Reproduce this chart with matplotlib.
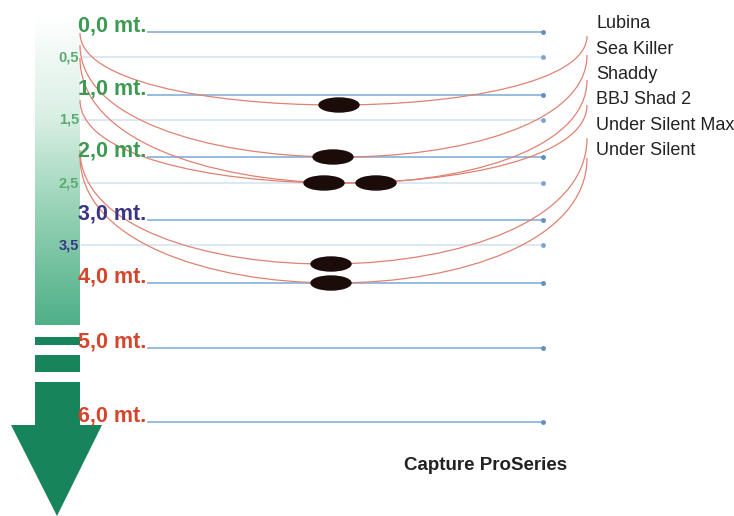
import numpy as np
import matplotlib.pyplot as plt
from matplotlib.colors import LinearSegmentedColormap
from matplotlib.patches import Ellipse, Rectangle, Polygon
from matplotlib.path import Path
from matplotlib.patches import PathPatch

# =============================================================================
# DATA
depth_marks = [0.0, 1.0, 2.0, 3.0, 4.0, 5.0, 6.0]
depth_labels = ["0,0 mt.", "1,0 mt.", "2,0 mt.", "3,0 mt.", "4,0 mt.", "5,0 mt.", "6,0 mt."]
half_marks = [0.5, 1.5, 2.5, 3.5]
half_labels = ["0,5", "1,5", "2,5", "3,5"]

lure_names = ["Lubina", "Sea Killer", "Shaddy", "BBJ Shad 2", "Under Silent Max", "Under Silent"]
lure_depth = [1.2, 2.0, 2.5, 2.5, 3.75, 4.0]   # max running depth, m

# =============================================================================
# LAYOUT (pixel canvas, y grows downward)
W, H = 734, 516
knot_depth = [0, 0.5, 1, 1.5, 2, 2.5, 3, 3.5, 4, 5, 6]
knot_y = [32, 57, 95, 120, 157, 183, 220, 245, 283, 348, 422]


def depth_to_y(d):
    return float(np.interp(d, knot_depth, knot_y))


mark_colors = ["#3d9a52", "#3d9a52", "#3d9a52", "#3a3585", "#d4452c", "#d4452c", "#d4452c"]
half_colors = ["#5aab72", "#5aab72", "#5aab72", "#3a3585"]

curve_x0, curve_x1 = 80, 587
curve_start_y = [33, 45, 58, 100, 150, 156]
curve_end_y = [36, 55, 80, 105, 138, 158]
ellipse_x = [339, 333, 324, 376, 331, 331]

FONT = ["Liberation Sans", "DejaVu Sans"]

fig = plt.figure(figsize=(W / 100, H / 100), dpi=100)
ax = fig.add_axes([0, 0, 1, 1])
ax.set_xlim(0, W)
ax.set_ylim(H, 0)
ax.axis("off")

# depth bar with gradient
grad = LinearSegmentedColormap.from_list("bar", ["#ffffff", "#d9efe4", "#8fcfb0", "#4fb088"])
ax.imshow(np.linspace(0, 1, 200).reshape(-1, 1), cmap=grad, aspect="auto",
          extent=[35, 80, 325, 14], zorder=1)
dark = "#17845b"
ax.add_patch(Rectangle((35, 337), 45, 8, color=dark, lw=0, zorder=1))
ax.add_patch(Rectangle((35, 355), 45, 17, color=dark, lw=0, zorder=1))
ax.add_patch(Polygon([(35, 382), (80, 382), (80, 425), (102, 425), (57, 516),
                      (11, 425), (35, 425)], closed=True, color=dark, lw=0, zorder=1))

# grid lines
for d, lab, col in zip(depth_marks, depth_labels, mark_colors):
    y = depth_to_y(d)
    ax.plot([148, 543], [y, y], color="#8fb6de", lw=1.3, zorder=2)
    ax.plot([543], [y], "o", color="#5f8fc4", ms=2.5, zorder=2)
    ax.text(78, y - 6, lab, color=col, fontsize=15.5, fontweight="bold",
            family=FONT, ha="left", va="center", zorder=5)

for d, lab, col in zip(half_marks, half_labels, half_colors):
    y = depth_to_y(d)
    ax.plot([82, 543], [y, y], color="#d6e5f3", lw=1.2, zorder=2)
    ax.plot([543], [y], "o", color="#7fa6d2", ms=2.5, zorder=2)
    ax.text(79, y, lab, color=col, fontsize=10.5, fontweight="bold",
            family=FONT, ha="right", va="center", zorder=5)

# lure curves and bodies
for i, (name, d) in enumerate(zip(lure_names, lure_depth)):
    ye = depth_to_y(d)
    y0, y1 = curve_start_y[i], curve_end_y[i]
    yc = (8 * ye - y0 - y1) / 6
    path = Path([(curve_x0, y0), (curve_x0, yc), (curve_x1, yc), (curve_x1, y1)],
                [Path.MOVETO, Path.CURVE4, Path.CURVE4, Path.CURVE4])
    ax.add_patch(PathPatch(path, fc="none", ec="#e08272", lw=0.9, zorder=3))
    ax.add_patch(Ellipse((ellipse_x[i], ye), 40, 14, color="#1b0c0a", zorder=4))
    ax.text(596, 24 + 25.3 * i, name, fontsize=13, color="#222222",
            family=FONT, ha="left", va="center", zorder=5)

ax.text(486, 466, "Capture ProSeries", fontsize=13.5, fontweight="bold",
        color="#222222", family=FONT, ha="center", va="center")

fig.savefig("out.png", dpi=100)
